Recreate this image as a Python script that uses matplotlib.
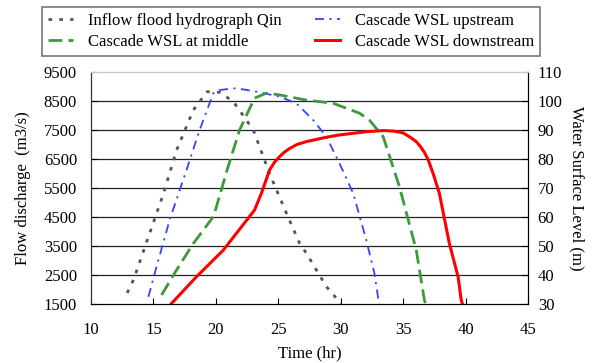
import matplotlib
import numpy as np

matplotlib.use("Agg")
import matplotlib.pyplot as plt

plt.rcParams['font.family'] = ['Liberation Serif', 'DejaVu Serif']
plt.rcParams['font.size'] = 12

# Inflow flood hydrograph (m3/s)
t_qin = [12.9, 13.4, 14.7, 15.8, 16.85, 18.2, 19.3, 20.3, 21.4, 23.0, 24.3, 25.65, 26.7, 27.25, 28.85, 29.65, 30.0]
q_qin = [1880, 2330, 3940, 5300, 6800, 8190, 8820, 8800, 8480, 7500, 6000, 4630, 3600, 3250, 2100, 1700, 1500]

# Cascade water surface levels (m)
t_up = [14.6, 15.25, 16.3, 17.65, 18.7, 19.8, 20.3, 21.65, 23.25, 25.1, 26.45, 27.8, 28.85, 29.9, 31.0, 32.05, 32.7, 33.0, 33.1]
wsl_up = [32.5, 42.9, 59.0, 76.2, 90.0, 102.7, 103.8, 104.4, 103.2, 101.5, 99.2, 93.4, 87.7, 78.5, 68.2, 52.0, 40.6, 32.0, 30.0]

t_mid = [15.65, 16.85, 18.2, 19.8, 20.05, 20.9, 21.9, 23.1, 24.05, 25.1, 27.25, 29.4, 31.5, 32.3, 33.4, 34.7, 36.05, 36.7, 36.8]
wsl_mid = [33.1, 41.7, 50.9, 60.1, 63.6, 76.2, 90.0, 101.0, 102.7, 102.1, 100.3, 99.2, 95.8, 93.4, 87.7, 70.5, 48.6, 31.4, 30.0]

t_down = [16.45, 18.45, 20.6, 23.1, 23.65, 24.3, 24.7, 25.1, 25.5, 25.9, 26.5, 27.25, 28.85, 29.9, 32.05,
          33.4, 34.3, 35.0, 35.6, 36.05, 36.4, 36.7, 37.0, 37.4, 37.9, 38.7, 39.4, 39.65, 39.75]
wsl_down = [30.2, 39.4, 48.6, 62.4, 68.2, 76.2, 78.9, 80.8, 82.4, 83.6, 85.0, 86.0, 87.5, 88.3, 89.4,
            89.8, 89.6, 89.0, 87.4, 86.0, 84.2, 82.3, 79.8, 75.0, 68.2, 50.9, 39.4, 31.4, 30.0]

fig, ax = plt.subplots(figsize=(5.92, 3.63), dpi=100)
fig.subplots_adjust(left=0.1537, right=0.8919, bottom=0.1625, top=0.8017)
ax2 = ax.twinx()

ax.set_xlim(10, 45)
ax.set_ylim(1500, 9500)
ax2.set_ylim(30, 110)
ax.set_xticks(np.arange(10, 46, 5))
ax.set_yticks(np.arange(1500, 9501, 1000))
ax2.set_yticks(np.arange(30, 111, 10))

for y in np.arange(2500, 9000, 1000):
    ax.axhline(y, color='#222222', lw=0.9, zorder=0)

l1, = ax.plot(t_qin, q_qin, color='#555555', lw=2.0, dashes=(1.3, 2.6),
              label='Inflow flood hydrograph Qin')
l2, = ax2.plot(t_up, wsl_up, color='#3344ff', lw=1.3, dashes=(5, 3, 1.2, 3),
               label='Cascade WSL upstream')
l3, = ax2.plot(t_mid, wsl_mid, color='#3c9a3c', lw=2.0, dashes=(5, 2.2),
               label='Cascade WSL at middle')
l4, = ax2.plot(t_down, wsl_down, color='#ff0000', lw=2.2,
               label='Cascade WSL downstream')

for a in (ax, ax2):
    a.tick_params(direction='in', length=4, width=0.8)
    a.spines['top'].set_color('#c8c8c8')
    a.spines['left'].set_color('#333333')
ax.tick_params(axis='y', pad=10)
ax2.tick_params(axis='y', pad=7)
ax.tick_params(axis='x', pad=13)

ax.set_xlabel('Time (hr)', labelpad=5)
ax.set_ylabel('Flow discharge  (m3/s)', labelpad=9)
ax2.set_ylabel('Water Surface Level (m)', rotation=270, labelpad=16)

# two-column legend above the plot, filled row by row
leg = fig.legend(handles=[l1, l3, l2, l4], loc='upper left', ncol=2,
                 bbox_to_anchor=(42 / 592, 1 - 7 / 363),
                 borderaxespad=0, frameon=True, fancybox=False,
                 edgecolor='#555555', handlelength=1.5, handletextpad=0.9,
                 columnspacing=2.0, borderpad=0.35, labelspacing=0.3)
leg.get_frame().set_linewidth(1.2)

plt.savefig('out.png', dpi=100)
plt.close()
